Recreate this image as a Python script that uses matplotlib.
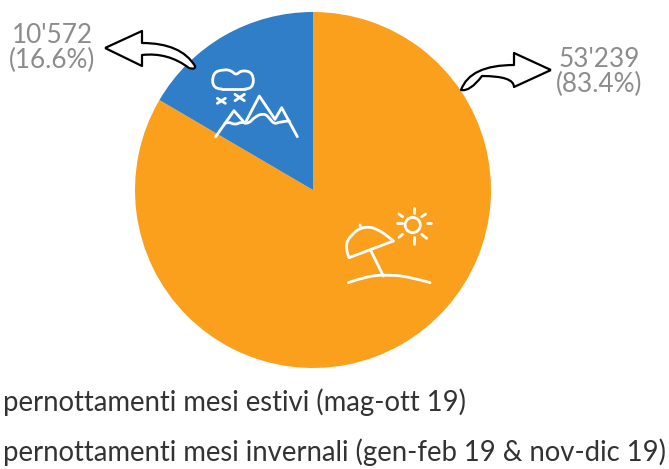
import matplotlib
matplotlib.use("Agg")
import matplotlib.pyplot as plt
from matplotlib.path import Path
from matplotlib.patches import PathPatch, Circle

plt.rcParams['font.family'] = ['Lato', 'DejaVu Sans']

# === data ===
values = [53239, 10572]
value_labels = ["53'239\n(83.4%)", "10'572\n(16.6%)"]
legend_labels = ["pernottamenti mesi estivi (mag-ott 19)",
                 "pernottamenti mesi invernali (gen-feb 19 & nov-dic 19)"]
colors = ['#FBA01D', '#2F7EC7']

# === settings ===
WIDTH, HEIGHT = 669, 469
CX, CY, R = 313, 190, 178
GREY = '#8C8C8C'
DARK = '#333333'

fig = plt.figure(figsize=(WIDTH / 100, HEIGHT / 100), dpi=100)

# pie
ax = fig.add_axes([(CX - R) / WIDTH, 1 - (CY + R) / HEIGHT, 2 * R / WIDTH, 2 * R / HEIGHT])
ax.pie(values, colors=colors, startangle=90, counterclock=False, radius=1,
       wedgeprops=dict(linewidth=0))
ax.set_xlim(-1, 1)
ax.set_ylim(-1, 1)

# overlay in pixel coords for arrows, icons and text
ov = fig.add_axes([0, 0, 1, 1])
ov.set_xlim(0, WIDTH)
ov.set_ylim(HEIGHT, 0)
ov.axis('off')


def line(pts, off=(0, 0), lw=2.0, color='white'):
    xs = [off[0] + p[0] / 3 for p in pts]
    ys = [off[1] + p[1] / 3 for p in pts]
    ov.plot(xs, ys, color=color, lw=lw, solid_capstyle='round', solid_joinstyle='round')


def smooth(pts, off=(0, 0), lw=2.0):
    # quadratic curve through the midpoints, ends stay on first and last point
    p = [(off[0] + a / 3, off[1] + b / 3) for a, b in pts]
    verts = [p[0]]
    codes = [Path.MOVETO]
    for i in range(1, len(p) - 1):
        end = p[i + 1] if i == len(p) - 2 else ((p[i][0] + p[i + 1][0]) / 2, (p[i][1] + p[i + 1][1]) / 2)
        verts += [p[i], end]
        codes += [Path.CURVE3, Path.CURVE3]
    ov.add_patch(PathPatch(Path(verts, codes), fc='none', ec='white', lw=lw,
                           capstyle='round', joinstyle='round'))


def arrow(verts, codes):
    ov.add_patch(PathPatch(Path(verts, codes), fc='white', ec='black', lw=1.6, joinstyle='round'))


M, L, C = Path.MOVETO, Path.LINETO, Path.CURVE3

# left arrow
arrow([(105, 48), (142, 31), (142, 43), (181, 43), (195, 66), (196, 70), (189, 68),
       (168, 52), (142, 55), (142, 66), (105, 48)],
      [M, L, L, C, C, C, C, C, C, L, L])
# right arrow
arrow([(551, 70), (514, 53), (514, 65), (470, 65), (461, 90), (470, 92), (482, 76),
       (514, 76), (514, 87), (551, 70)],
      [M, L, L, C, C, C, C, C, L, L])

# value labels
ov.text(599, 72, value_labels[0], color=GREY, fontsize=18.8, ha='center', va='center', linespacing=0.98)
ov.text(52, 48, value_labels[1], color=GREY, fontsize=18.8, ha='center', va='center', linespacing=0.98)

# legend text
ov.text(3, 402, legend_labels[0], color=DARK, fontsize=19.8, ha='left', va='center')
ov.text(3, 452, legend_labels[1], color=DARK, fontsize=19.8, ha='left', va='center')

# beach icon
b = (330, 190)
smooth([(57, 203), (44, 170), (62, 135), (100, 108), (150, 118), (190, 153)], b)
line([(57, 203), (190, 153)], b)
line([(123, 183), (160, 258)], b)
line([(90, 105), (93, 115)], b)
smooth([(55, 278), (110, 258), (180, 254), (245, 262), (300, 278)], b)
ov.add_patch(Circle((412.7, 225), 7.6, fc='none', ec='white', lw=2.0))
for ray in [[(253, 55), (253, 68)], [(253, 142), (253, 162)], [(202, 100), (216, 100)],
            [(290, 100), (304, 100)], [(207, 72), (218, 80)], [(275, 80), (287, 72)],
            [(207, 142), (218, 133)], [(275, 133), (290, 145)]]:
    line(ray, b)

# snow / mountain icon
m = (200, 60)
line([(47, 230), (102, 152), (135, 190), (178, 108), (225, 178), (245, 143), (292, 230)], m)
smooth([(75, 190), (85, 185), (105, 195), (125, 185), (145, 192), (165, 170), (190, 160),
        (205, 170), (222, 193), (240, 185), (268, 183)], m)
smooth([(65, 87), (38, 87), (38, 38), (72, 28), (95, 32), (108, 46), (125, 30),
        (160, 38), (160, 87), (135, 87)], m)
line([(65, 87), (135, 87)], m)
for x in [[(52, 115), (76, 130)], [(52, 130), (76, 115)], [(105, 103), (133, 122)], [(105, 122), (133, 103)]]:
    line(x, m)

fig.savefig('out.png', dpi=100)
